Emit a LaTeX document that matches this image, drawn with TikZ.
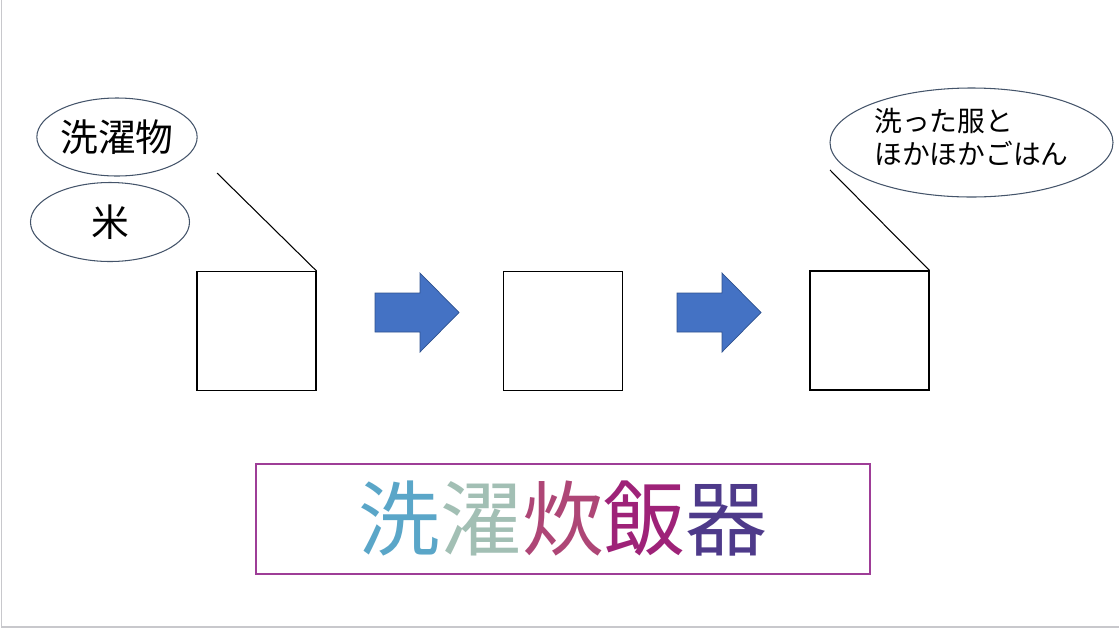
\documentclass[tikz,border=0pt]{standalone}
\usepackage{fontspec}
\setmainfont{Noto Sans CJK JP}
\usetikzlibrary{shapes.geometric}
\definecolor{ink}{HTML}{000000}
\definecolor{slate}{HTML}{44546A}
\definecolor{flow}{HTML}{4472C4}
\definecolor{flowedge}{HTML}{2F528F}
\definecolor{plum}{HTML}{9E3D97}
\definecolor{frame}{HTML}{C8C8CC}
\definecolor{tA}{HTML}{5AA6C8}
\definecolor{tB}{HTML}{A2BFB4}
\definecolor{tC}{HTML}{AE4676}
\definecolor{tD}{HTML}{9E2278}
\definecolor{tE}{HTML}{4E3A8A}

\begin{document}
\begin{tikzpicture}[text=ink,
  bubble/.style={ellipse,draw=slate,line width=.6pt,inner sep=0pt},
  unit/.style={draw=ink,line width=.6pt,minimum size=2.38cm,inner sep=0pt},
  flowarrow/.style={fill=flow,draw=flowedge,line width=.4pt}]
  \useasboundingbox (0,0) rectangle (22.38,-12.58);
  \draw[frame,line width=1pt] (0.03,0)--(0.03,-12.54)--(22.38,-12.54);

  % inputs
  \node[bubble,minimum width=3.2cm,minimum height=1.56cm,
    font=\fontsize{21.5}{26}\selectfont] (laundry) at (2.34,-2.74) {洗濯物};
  \node[bubble,minimum width=3.18cm,minimum height=1.58cm,
    font=\fontsize{21.5}{26}\selectfont] (rice) at (2.2,-4.44) {米};

  % three stages
  \node[unit] (box1) at (5.13,-6.62) {};
  \node[unit] (box2) at (11.26,-6.62) {};
  \node[unit] (box3) at (17.39,-6.61) {};

  \foreach \ax in {7.5,13.54}{
    \filldraw[flowarrow] (\ax,-5.86) -- ++(0.9,0) -- ++(0,0.4)
      -- ++(0.78,-0.79) -- ++(-0.78,-0.79) -- ++(0,0.4)
      -- ++(-0.9,0) -- cycle;
  }

  % output
  \node[bubble,minimum width=5.66cm,minimum height=2.18cm,align=left,
    font=\fontsize{15.8}{18.8}\selectfont] (result) at (19.43,-2.85)
    {洗った服と\\ほかほかごはん\vspace{6pt}};

  \coordinate (tailA) at (4.34,-3.46);
  \coordinate (tailB) at (16.6,-3.4);
  \draw[ink,line width=.6pt] (tailA) -- (box1.north east);
  \draw[ink,line width=.6pt] (tailB) -- (box3.north east);

  \node[draw=plum,line width=.6pt,minimum width=12.28cm,minimum height=2.2cm,
    font=\fontsize{46.5}{50}\selectfont] (title) at (11.26,-10.38)
    {\textcolor{tA}{洗}\textcolor{tB}{濯}\textcolor{tC}{炊}\textcolor{tD}{飯}\textcolor{tE}{器}};
\end{tikzpicture}
\end{document}
